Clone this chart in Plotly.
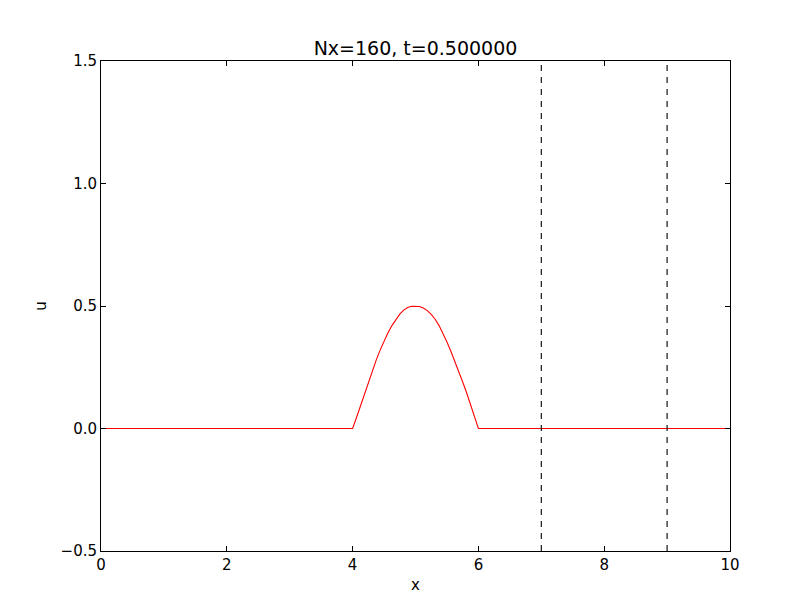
import plotly.graph_objects as go

# Solution u(x) at t=0.5
x_vals = [0.0, 4.0, 4.0625, 4.125, 4.1875, 4.25, 4.3125, 4.375, 4.4375, 4.5,
          4.5625, 4.625, 4.6875, 4.75, 4.8125, 4.875, 4.9375, 5.0,
          5.0625, 5.125, 5.1875, 5.25, 5.3125, 5.375, 5.4375, 5.5,
          5.5625, 5.625, 5.6875, 5.75, 5.8125, 5.875, 5.9375, 6.0, 10.0]
u_vals = [0.0, 0.0, 0.045, 0.093, 0.141, 0.189, 0.235, 0.279, 0.32, 0.357,
          0.391, 0.42, 0.446, 0.467, 0.483, 0.494, 0.499, 0.5,
          0.498, 0.492, 0.481, 0.466, 0.446, 0.42, 0.389, 0.353,
          0.315, 0.275, 0.233, 0.19, 0.146, 0.1, 0.051, 0.0, 0.0]

# Dashed vertical markers
vlines = [7.0, 9.0]
y_range = [-0.5, 1.5]

x_ticks = [0, 2, 4, 6, 8, 10]
y_ticks = [-0.5, 0.0, 0.5, 1.0, 1.5]
y_tick_labels = ["\u22120.5", "0.0", "0.5", "1.0", "1.5"]

title_text = "Nx=160, t=0.500000"

FONT = "DejaVu Sans"

fig = go.Figure()
fig.add_trace(go.Scatter(x=x_vals, y=u_vals, mode="lines",
                         line=dict(color="red", width=1.1),
                         showlegend=False, hoverinfo="skip"))
for xv in vlines:
    fig.add_trace(go.Scatter(x=[xv, xv], y=y_range, mode="lines",
                             line=dict(color="black", width=1.1, dash="6px,6px"),
                             showlegend=False, hoverinfo="skip"))

axis_common = dict(showgrid=False, zeroline=False, showline=True, linecolor="black",
                   linewidth=1, mirror="ticks", ticks="inside", ticklen=5,
                   tickcolor="black", tickwidth=1,
                   tickfont=dict(family=FONT, size=15, color="black"))

fig.update_layout(
    width=804, height=604,
    margin=dict(l=93, r=82, t=53, b=61),
    paper_bgcolor="white", plot_bgcolor="white",
    title=dict(text=title_text, x=0.5, xanchor="center", xref="paper",
               y=1 - 40 / 604, yanchor="middle",
               font=dict(family=FONT, size=19, color="black")),
    xaxis=dict(range=[0, 10], tickvals=x_ticks, ticktext=[str(t) for t in x_ticks],
               title=dict(text="x", font=dict(family=FONT, size=15, color="black"), standoff=6),
               **axis_common),
    yaxis=dict(range=y_range, tickvals=y_ticks, ticktext=y_tick_labels,
               title=dict(text="u", font=dict(family=FONT, size=15, color="black"), standoff=10),
               **axis_common),
)

fig.write_html("out.html")
